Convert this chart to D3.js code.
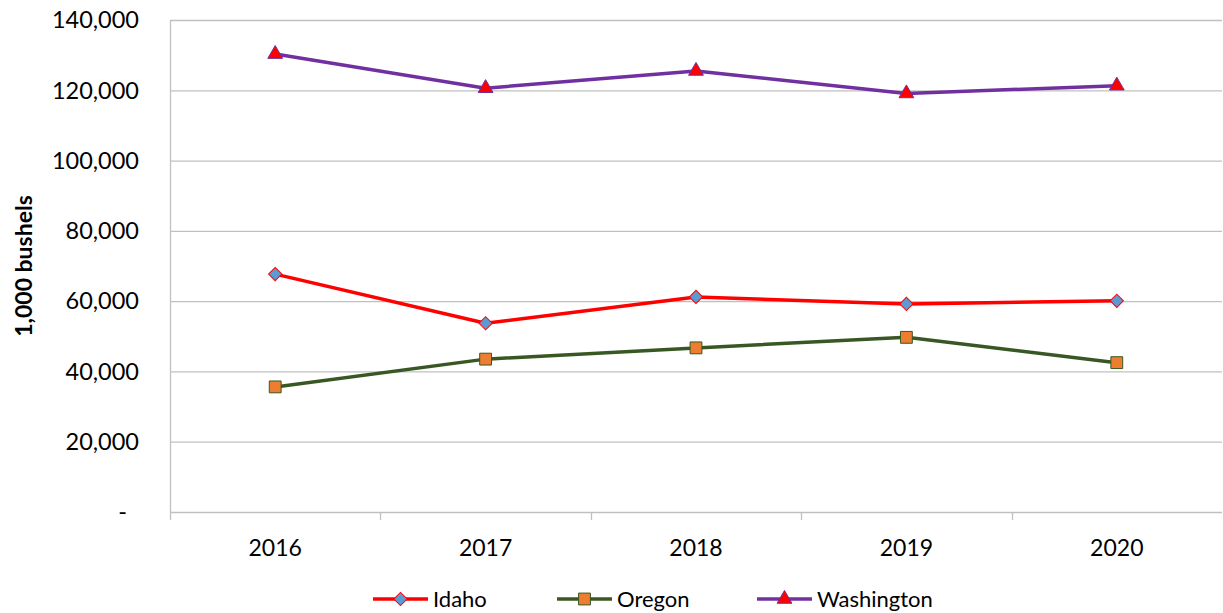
<!DOCTYPE html>
<html>
<head>
<meta charset="utf-8">
<script src="https://cdn.jsdelivr.net/npm/d3@7"></script>
<style>
  body { margin: 0; background: #fff; }
  text { font-family: Lato, "Open Sans", sans-serif; }
</style>
</head>
<body>
<svg id="chart" width="1223" height="613"></svg>
<script>
// Data
const years = ["2016", "2017", "2018", "2019", "2020"];
const idaho = [67700, 53700, 61200, 59200, 60100];
const oregon = [35600, 43500, 46700, 49700, 42500];
const washington = [130300, 120600, 125500, 119100, 121300];
const yTicks = [0, 20000, 40000, 60000, 80000, 100000, 120000, 140000];

const series = [
  { name: "Idaho", values: idaho, line: "#ff0000", fill: "#5b9bd5", stroke: "#ff0000", shape: "diamond" },
  { name: "Oregon", values: oregon, line: "#385723", fill: "#ed7d31", stroke: "#385723", shape: "square" },
  { name: "Washington", values: washington, line: "#7030a0", fill: "#ff0000", stroke: "#7030a0", shape: "triangle" }
];

const svg = d3.select("#chart");
const margin = { left: 170, right: 1222, top: 20, bottom: 512 };

const x = d3.scaleBand().domain(years).range([margin.left, margin.right]);
const y = d3.scaleLinear().domain([0, 140000]).range([margin.bottom, margin.top]);

// gridlines
svg.append("g")
  .selectAll("line")
  .data(yTicks)
  .join("line")
  .attr("x1", margin.left)
  .attr("x2", margin.right)
  .attr("y1", d => y(d) + 0.5)
  .attr("y2", d => y(d) + 0.5)
  .attr("stroke", "#c0c0c0")
  .attr("stroke-width", 1.3);

// y axis line
svg.append("line")
  .attr("x1", margin.left + 0.5).attr("x2", margin.left + 0.5)
  .attr("y1", margin.top).attr("y2", margin.bottom + 8)
  .attr("stroke", "#c0c0c0").attr("stroke-width", 1.3);

// x tick marks at category boundaries
const bounds = years.map(d => x(d)).concat([margin.right]);
svg.append("g")
  .selectAll("line")
  .data(bounds.slice(1, -1))
  .join("line")
  .attr("x1", d => Math.round(d) + 0.5)
  .attr("x2", d => Math.round(d) + 0.5)
  .attr("y1", margin.bottom)
  .attr("y2", margin.bottom + 8)
  .attr("stroke", "#c0c0c0").attr("stroke-width", 1.3);

// y labels
const fmt = d3.format(",");
svg.append("g")
  .selectAll("text")
  .data(yTicks)
  .join("text")
  .attr("x", d => d === 0 ? 127 : 139)
  .attr("y", d => y(d))
  .attr("dy", "0.35em")
  .attr("text-anchor", "end")
  .style("font-size", "23.5px")
  .attr("fill", "#000")
  .text(d => d === 0 ? "-" : fmt(d));

// x labels
svg.append("g")
  .selectAll("text")
  .data(years)
  .join("text")
  .attr("x", d => x(d) + x.bandwidth() / 2)
  .attr("y", 548)
  .attr("dy", "0.35em")
  .attr("text-anchor", "middle")
  .style("font-size", "23px")
  .text(d => d);

// y axis title
svg.append("text")
  .attr("transform", "translate(24," + (margin.top + margin.bottom) / 2 + ") rotate(-90)")
  .attr("text-anchor", "middle")
  .attr("dy", "0.35em")
  .style("font-size", "23px")
  .style("font-weight", "bold")
  .text("1,000 bushels");

const line = d3.line()
  .x((d, i) => x(years[i]) + x.bandwidth() / 2)
  .y(d => y(d));

// lines
svg.append("g")
  .selectAll("path")
  .data(series)
  .join("path")
  .attr("d", d => line(d.values))
  .attr("fill", "none")
  .attr("stroke", d => d.line)
  .attr("stroke-width", 3.5)
  .attr("stroke-linejoin", "round");

// markers
function symbolFor(s) {
  if (s.shape === "diamond") return d3.symbol().type(d3.symbolSquare).size(88)();
  if (s.shape === "square") return d3.symbol().type(d3.symbolSquare).size(140)();
  return d3.symbol().type(d3.symbolTriangle).size(95)();
}
function rot(s) { return s.shape === "diamond" ? " rotate(45)" : ""; }

series.forEach(s => {
  svg.append("g")
    .selectAll("path")
    .data(s.values)
    .join("path")
    .attr("transform", (d, i) => "translate(" + (x(years[i]) + x.bandwidth() / 2) + "," + y(d) + ")" + rot(s))
    .attr("d", symbolFor(s))
    .attr("fill", s.fill)
    .attr("stroke", s.stroke)
    .attr("stroke-width", 1);
});

// legend
const legendX = [373, 557, 757];
const legend = svg.append("g")
  .selectAll("g")
  .data(series)
  .join("g")
  .attr("transform", (d, i) => "translate(" + legendX[i] + ",599)");
legend.append("line")
  .attr("x1", 0).attr("x2", 55)
  .attr("stroke", d => d.line)
  .attr("stroke-width", 3.5);
legend.append("path")
  .attr("transform", d => "translate(27.5,0)" + rot(d))
  .attr("d", d => symbolFor(d))
  .attr("fill", d => d.fill)
  .attr("stroke", d => d.stroke);
legend.append("text")
  .attr("x", 60)
  .attr("dy", "0.35em")
  .style("font-size", "22px")
  .text(d => d.name);
</script>
</body>
</html>
